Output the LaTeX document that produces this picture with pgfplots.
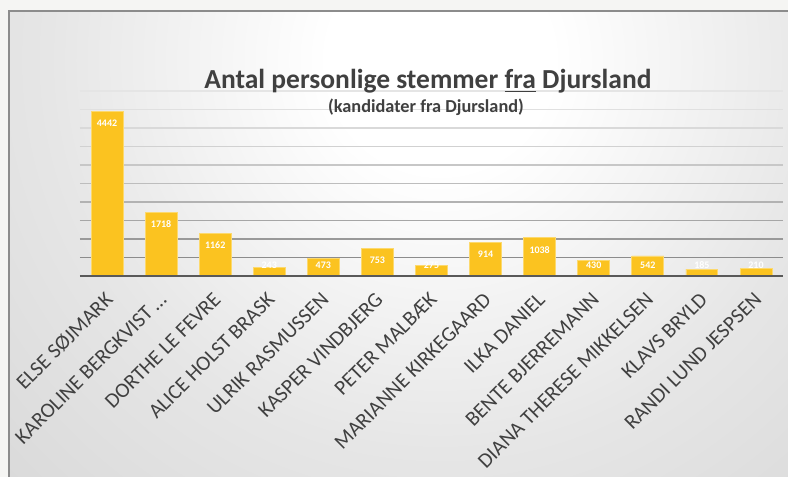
\documentclass[border=0pt]{standalone}
\usepackage{pgfplots}
\pgfplotsset{compat=1.18}
\usepackage{fontspec}
\setmainfont{Carlito}
\definecolor{pagebg}{HTML}{F5F5F3}
\definecolor{framecol}{HTML}{8C8C8C}
\definecolor{barfill}{HTML}{FBC320}
\definecolor{bardraw}{HTML}{FCD96E}
\definecolor{txt}{HTML}{404040}
\definecolor{axiscol}{HTML}{595959}
\definecolor{bgA}{HTML}{E6E6E6}
\definecolor{bgB}{HTML}{D6D6D6}
\definecolor{bgC}{HTML}{CBCBCB}
\definecolor{bgD}{HTML}{C2C2C2}
\pgfdeclareradialshading{chartbg}{\pgfpoint{0bp}{0bp}}{color(0bp)=(white); color(4bp)=(white); color(14bp)=(bgA); color(24bp)=(bgB); color(34bp)=(bgC); color(50bp)=(bgD)}
\newcommand\ul[1]{\setbox0\hbox{#1}\rlap{\rule[-3.5pt]{\wd0}{1.6pt}}\box0\relax}
\begin{document}
\begin{tikzpicture}[x=1pt,y=1pt]
\useasboundingbox (0,0) rectangle (788,477);
\fill[pagebg] (0,0) rectangle (788,477);
\begin{scope}
\clip (9,-2) rectangle (790,466);
\shade[shading=chartbg] (440,417) circle (700);
\end{scope}
\draw[framecol, line width=2pt] (9,-2) -- (9,466) -- (790,466);
\begin{axis}[
  at={(80pt,201pt)}, anchor=south west,
  scale only axis, width=703pt, height=185pt,
  xmin=-0.5, xmax=12.5, ymin=0, ymax=5000,
  axis line style={draw=none},
  ytick=\empty,
  xtick={0,1,...,12},
  xticklabels={{ELSE SØJMARK},{KAROLINE BERGKVIST …},{DORTHE LE FEVRE},{ALICE HOLST BRASK},{ULRIK RASMUSSEN},{KASPER VINDBJERG},{PETER MALBÆK},{MARIANNE KIRKEGAARD},{ILKA DANIEL},{BENTE BJERREMANN},{DIANA THERESE MIKKELSEN},{KLAVS BRYLD},{RANDI LUND JESPSEN}},
  major tick length=0pt,
  xticklabel style={font=\fontsize{21}{25}\selectfont, text=txt, inner sep=0pt, xshift=-3pt, yshift=-15pt, rotate=45, anchor=north east},
  clip=false,
  /pgf/number format/assume math mode=true,
  /pgf/number format/1000 sep={},
]
\addplot[draw=black!10, line width=1.2pt] coordinates {(-0.5,5000) (12.5,5000)};
\addplot[draw=black!12, line width=1.2pt] coordinates {(-0.5,4500) (12.5,4500)};
\addplot[draw=black!15, line width=1.2pt] coordinates {(-0.5,4000) (12.5,4000)};
\addplot[draw=black!18, line width=1.2pt] coordinates {(-0.5,3500) (12.5,3500)};
\addplot[draw=black!22, line width=1.2pt] coordinates {(-0.5,3000) (12.5,3000)};
\addplot[draw=black!26, line width=1.2pt] coordinates {(-0.5,2500) (12.5,2500)};
\addplot[draw=black!30, line width=1.2pt] coordinates {(-0.5,2000) (12.5,2000)};
\addplot[draw=black!35, line width=1.2pt] coordinates {(-0.5,1500) (12.5,1500)};
\addplot[draw=black!40, line width=1.2pt] coordinates {(-0.5,1000) (12.5,1000)};
\addplot[draw=black!45, line width=1.2pt] coordinates {(-0.5,500) (12.5,500)};
\addplot[ybar, bar width=0.59, fill=barfill, draw=bardraw, line width=0.8pt,
  visualization depends on={rawy \as \rawy},
  nodes near coords,
  every node near coord/.append style={font=\fontsize{10}{12}\bfseries, text=white, anchor=center, inner sep=0pt, yshift={max(-12,11-0.037*\rawy)}},
] coordinates {
(0,4442) (1,1718) (2,1162) (3,243) (4,473) (5,753) (6,275)
(7,914) (8,1038) (9,430) (10,542) (11,185) (12,210)
};
\addplot[draw=axiscol, line width=2pt] coordinates {(-0.5,0) (12.5,0)};
\end{axis}
\node[anchor=base, text=txt, font=\fontsize{27.5}{32}\bfseries\selectfont, inner sep=0pt] at (428,388) {Antal personlige stemmer \ul{fra} Djursland};
\node[anchor=base, text=txt, font=\fontsize{18.3}{22}\bfseries\selectfont, inner sep=0pt] at (426,364) {(kandidater fra Djursland)};
\end{tikzpicture}
\end{document}
